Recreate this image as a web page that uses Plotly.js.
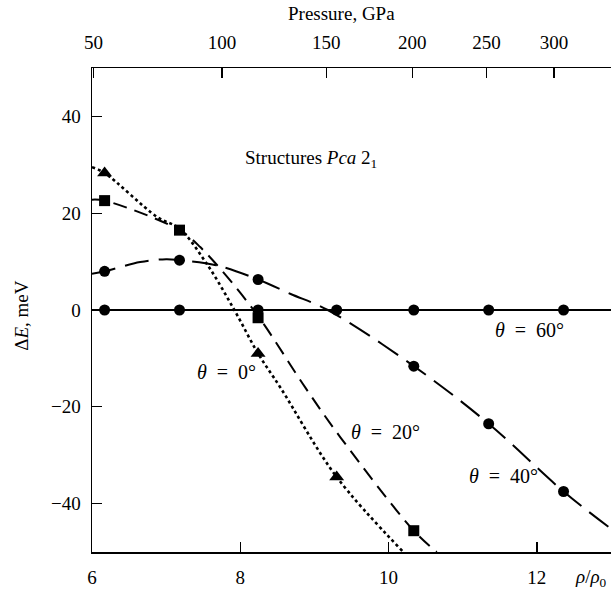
<!DOCTYPE html>
<html>
<head>
<meta charset="utf-8">
<script src="https://cdn.plot.ly/plotly-3.0.1.min.js"></script>
<style>html,body{margin:0;padding:0;background:#fff;}</style>
</head>
<body>
<div id="chart" style="width:611px;height:594px;"></div>
<script>
// ---- data ----
// density positions of the computed points (rho/rho0)
const rhoPts = [6.17, 7.18, 8.24, 9.30, 10.34, 11.35, 12.36];

// theta = 0 deg (triangles)
const tri0X = [6.17, 8.24, 9.30];
const tri0Y = [28.3, -9.0, -34.5];
// theta = 20 deg (squares)
const sq20X = [6.17, 7.18, 8.24, 10.34];
const sq20Y = [22.6, 16.5, -1.6, -45.6];
// theta = 40 deg (circles)
const c40X = [6.17, 7.18, 8.24, 10.34, 11.35, 12.36];
const c40Y = [8.0, 10.3, 6.3, -11.6, -23.5, -37.5];
// theta = 60 deg (circles, reference level)
const c60Y = [0, 0, 0, 0, 0, 0, 0];

// fitted curves
const fit0X = [6.0, 6.17, 6.88, 7.18, 7.55, 7.92, 8.24, 8.54, 9.30, 10.2];
const fit0Y = [29.5, 28.3, 19.2, 16.8, 9.5, 0, -9.0, -16.0, -34.5, -50];
const fit20X = [6.0, 6.17, 7.18, 7.46, 8.18, 8.88, 9.35, 10.34, 10.65];
const fit20Y = [22.8, 22.6, 16.5, 13.0, 0, -16.1, -26.3, -45.6, -50];
const fit40X = [6.0, 6.17, 6.65, 7.0, 7.18, 7.69, 8.24, 8.68, 9.18, 10.34, 11.35, 12.36, 13.0];
const fit40Y = [7.5, 8.0, 9.9, 10.5, 10.3, 9.2, 6.3, 3.3, 0, -11.6, -23.5, -37.5, -45.2];
const fit60X = [6.0, 13.0];
const fit60Y = [0, 0];

// top axis: pressure tick labels and where they fall on the rho axis
const pressLabels = ['50', '100', '150', '200', '250', '300'];
const pressRho = [6.02, 7.755, 9.16, 10.32, 11.32, 12.23];

// bottom axis / left axis ticks
const rhoTicks = [6, 8, 10, 12];
const eTicks = [-40, -20, 0, 20, 40];

const FONT = "'Liberation Serif', 'Times New Roman', Times, serif";
const BLK = '#000';

const lineBase = {mode: 'lines', hoverinfo: 'skip', showlegend: false};
const traces = [
  Object.assign({x: fit60X, y: fit60Y, line: {color: BLK, width: 2.2}}, lineBase),
  Object.assign({x: fit40X, y: fit40Y, line: {color: BLK, width: 2, dash: '24px,10px', shape: 'spline', smoothing: 1}}, lineBase),
  Object.assign({x: fit20X, y: fit20Y, line: {color: BLK, width: 2, dash: '14px,8px', shape: 'spline', smoothing: 1}}, lineBase),
  Object.assign({x: fit0X, y: fit0Y, line: {color: BLK, width: 2.6, dash: 'dot', shape: 'spline', smoothing: 1}}, lineBase),
  {x: rhoPts, y: c60Y, mode: 'markers', marker: {symbol: 'circle', size: 11, color: BLK}, showlegend: false},
  {x: c40X, y: c40Y, mode: 'markers', marker: {symbol: 'circle', size: 11, color: BLK}, showlegend: false},
  {x: sq20X, y: sq20Y, mode: 'markers', marker: {symbol: 'square', size: 11, color: BLK}, showlegend: false},
  {x: tri0X, y: tri0Y, mode: 'markers', marker: {symbol: 'triangle-up', size: 13, color: BLK}, showlegend: false},
  // carrier for the top (pressure) axis
  {x: pressRho, y: pressRho.map(() => null), xaxis: 'x2', mode: 'none', hoverinfo: 'skip', showlegend: false}
];

const annFont = {family: FONT, size: 19, color: BLK};
const thFont = {family: FONT, size: 20, color: BLK};
const tickFont = {family: FONT, size: 19, color: BLK};
const layout = {
  width: 611, height: 594,
  margin: {l: 92, r: 0, t: 68, b: 42, pad: 0},
  paper_bgcolor: '#fff', plot_bgcolor: '#fff',
  font: {family: FONT, size: 19, color: BLK},
  showlegend: false,
  xaxis: {
    range: [6, 13], tickvals: rhoTicks, ticks: 'inside', ticklen: 10, tickwidth: 1.3, tickcolor: BLK,
    showline: true, linecolor: BLK, linewidth: 1.5, mirror: false, showgrid: false, zeroline: false,
    tickfont: tickFont, ticklabelstandoff: 8
  },
  xaxis2: {
    overlaying: 'x', side: 'top', range: [6, 13], tickvals: pressRho, ticktext: pressLabels,
    ticks: 'inside', ticklen: 10, tickwidth: 1.3, tickcolor: BLK,
    showline: true, linecolor: BLK, linewidth: 1.5, showgrid: false, zeroline: false,
    tickfont: tickFont, ticklabelstandoff: 10
  },
  yaxis: {
    range: [-50, 50], tickvals: eTicks, ticks: 'inside', ticklen: 10, tickwidth: 1.3, tickcolor: BLK,
    showline: true, linecolor: BLK, linewidth: 1.5, mirror: true, showgrid: false, zeroline: false,
    tickfont: tickFont, ticklabelstandoff: 6
  },
  annotations: [
    {text: 'Pressure, GPa', xref: 'paper', yref: 'paper', x: 0.48, y: 1.112, showarrow: false, font: annFont, xanchor: 'center', yanchor: 'middle'},
    {text: 'Δ<i>E</i>, meV', xref: 'paper', yref: 'paper', x: -0.135, y: 0.49, textangle: -90, showarrow: false, font: annFont, xanchor: 'center', yanchor: 'middle'},
    {text: '<i>ρ</i>/<i>ρ</i><sub>0</sub>', xref: 'x', yref: 'paper', x: 12.73, y: -0.054, showarrow: false, font: annFont, xanchor: 'center', yanchor: 'middle'},
    {text: 'Structures <i>Pca</i> 2<sub>1</sub>', xref: 'x', yref: 'y', x: 8.95, y: 31.3, showarrow: false, font: annFont, xanchor: 'center', yanchor: 'middle'},
    {text: '<i>θ</i>\u2002=\u200260°', xref: 'x', yref: 'y', x: 11.9, y: -4.2, showarrow: false, font: thFont, xanchor: 'center', yanchor: 'middle'},
    {text: '<i>θ</i>\u2002=\u200240°', xref: 'x', yref: 'y', x: 11.55, y: -34.2, showarrow: false, font: thFont, xanchor: 'center', yanchor: 'middle'},
    {text: '<i>θ</i>\u2002=\u200220°', xref: 'x', yref: 'y', x: 9.96, y: -25.2, showarrow: false, font: thFont, xanchor: 'center', yanchor: 'middle'},
    {text: '<i>θ</i>\u2002=\u20020°', xref: 'x', yref: 'y', x: 7.81, y: -12.8, showarrow: false, font: thFont, xanchor: 'center', yanchor: 'middle'}
  ]
};

Plotly.newPlot('chart', traces, layout, {staticPlot: true, displayModeBar: false});
</script>
</body>
</html>
